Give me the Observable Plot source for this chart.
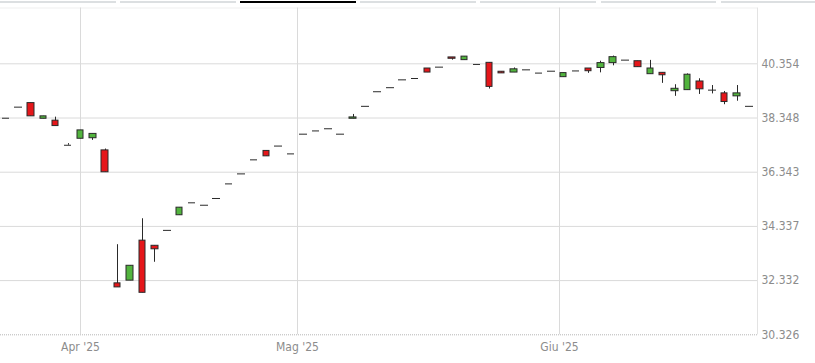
<!DOCTYPE html>
<html>
<head>
<meta charset="utf-8">
<script src="https://cdn.jsdelivr.net/npm/d3@7"></script>
<script src="https://cdn.jsdelivr.net/npm/@observablehq/plot@0.6"></script>
<style>
  html, body { margin: 0; padding: 0; background: #fff; }
  #wrap { width: 815px; height: 363px; overflow: hidden; position: relative; }
  #tabs { position: relative; height: 7px; }
  #tabs div { position: absolute; top: 1px; height: 2px; width: 115.6px; background: #dcdfe1; }
  #tabs div.sel { background: #000; }
  svg { display: block; }
  svg text { font-stretch: condensed; }
</style>
</head>
<body>
<div id="wrap">
  <div id="tabs"></div>
  <div id="chart"></div>
</div>
<script>
const dates = [
  "2025-03-24","2025-03-25","2025-03-26","2025-03-27","2025-03-28","2025-03-31",
  "2025-04-01","2025-04-02","2025-04-03","2025-04-04","2025-04-07","2025-04-08","2025-04-09","2025-04-10","2025-04-11",
  "2025-04-14","2025-04-15","2025-04-16","2025-04-17","2025-04-22","2025-04-23","2025-04-24","2025-04-28","2025-04-30",
  "2025-05-02","2025-05-05","2025-05-06","2025-05-07","2025-05-08","2025-05-09","2025-05-12","2025-05-13","2025-05-14",
  "2025-05-15","2025-05-16","2025-05-19","2025-05-20","2025-05-21","2025-05-22","2025-05-23","2025-05-26","2025-05-27",
  "2025-05-28","2025-05-29","2025-05-30",
  "2025-06-02","2025-06-03","2025-06-04","2025-06-05","2025-06-06","2025-06-09","2025-06-10","2025-06-11","2025-06-12",
  "2025-06-13","2025-06-16","2025-06-17","2025-06-18","2025-06-19","2025-06-20","2025-06-23"
];
const open = [
  38340,38750,38900,38320,38250,37340,
  37580,37600,37150,32230,32330,33810,33620,34190,34750,
  35210,35120,35370,35910,36280,36800,37130,37310,37020,
  37750,37870,37950,37750,38320,38780,39320,39470,39760,
  39810,40180,40230,40590,40490,40330,40390,40060,40030,
  40130,40010,40080,
  39860,40090,40180,40200,40380,40490,40450,39970,40020,
  39340,39380,39700,39380,39260,39150,38780
];
const high = [
  38340,38750,38900,38410,38380,37400,
  37890,37760,37200,33660,32880,34620,33620,34190,35030,
  35210,35120,35370,35910,36280,36800,37130,37310,37020,
  37750,37870,37950,37750,38480,38780,39320,39470,39760,
  39810,40180,40230,40590,40620,40330,40390,40060,40200,
  40130,40010,40080,
  40010,40090,40180,40450,40640,40490,40450,40480,40020,
  39580,39980,39800,39550,39330,39550,38780
];
const low = [
  38340,38750,38410,38320,38050,37340,
  37580,37520,36340,32080,32330,31880,33010,34190,34750,
  35210,35120,35370,35910,36280,36800,36930,37310,37020,
  37750,37870,37950,37750,38320,38780,39320,39470,39760,
  39810,40030,40230,40490,40490,40330,39420,40000,40030,
  40130,40010,40080,
  39860,40090,40000,40020,40280,40490,40230,39970,39630,
  39150,39380,39220,39240,38840,38970,38780
];
const close = [
  38340,38750,38410,38410,38050,37340,
  37890,37760,36340,32080,32880,31880,33490,34190,35030,
  35210,35120,35370,35910,36280,36800,36930,37310,37020,
  37750,37870,37950,37750,38370,38780,39320,39470,39760,
  39810,40030,40230,40540,40620,40330,39500,40000,40150,
  40130,40010,40080,
  40010,40090,40080,40380,40600,40490,40230,40180,39930,
  39430,39950,39410,39380,38940,39260,38780
];
const yTicks = [30326, 32332, 34337, 36343, 38348, 40354];
const monthStarts = ["2025-04-01", "2025-05-01", "2025-06-01"];
const monthLabels = ["Apr '25", "Mag '25", "Giu '25"];
const tabCount = 7;
const selectedTab = 2;

// tabs bar
const tabs = document.getElementById("tabs");
for (let k = 0; k < tabCount; k++) {
  const d = document.createElement("div");
  d.style.left = (k * 120.1) + "px";
  if (k === selectedTab) d.className = "sel";
  tabs.appendChild(d);
}

const rows = dates.map((d, i) => ({
  i, date: new Date(d), open: open[i], high: high[i], low: low[i], close: close[i]
}));

function datePos(t) {
  const ms = +new Date(t);
  for (let i = 0; i < rows.length - 1; i++) {
    const a = +rows[i].date, b = +rows[i + 1].date;
    if (ms >= a && ms < b) return i + (ms - a) / (b - a);
  }
  return rows.length - 1;
}
const monthPos = monthStarts.map(datePos);
const labelOf = new Map(monthPos.map((p, k) => [p, monthLabels[k]]));

const itFmt = d3.formatLocale({decimal: ",", thousands: ".", grouping: [3], currency: ["€", ""]}).format(",d");

const xMin = -0.452, xMax = 60.645;
const yMin = 30326, yMax = 42419;
const hw = 0.26, dw = 0.31;

const flat = rows.filter(d => d.open === d.close);
const bodies = rows.filter(d => d.open !== d.close);
const up = bodies.filter(d => d.close > d.open);
const down = bodies.filter(d => d.close < d.open);
const wicks = rows.filter(d => d.high > d.low);

const green = "#52b43e", red = "#e5161a", edge = "#2a2a2a";

const chart = Plot.plot({
  width: 815,
  height: 356,
  marginLeft: 0,
  marginRight: 58,
  marginTop: 0.5,
  marginBottom: 28.7,
  x: {domain: [xMin, xMax], axis: null, round: true},
  y: {domain: [yMin, yMax], axis: null},
  style: {fontFamily: "'DejaVu Sans Condensed', 'DejaVu Sans', sans-serif", fontSize: "12px", background: "#fff"},
  marks: [
    Plot.ruleY([yMax], {x1: () => xMin, x2: () => xMax, stroke: "#efefef"}),
    Plot.ruleY(yTicks.slice(1), {x1: () => xMin, x2: () => xMax, stroke: "#dadada"}),
    Plot.ruleY(yTicks.slice(0, 1), {x1: () => xMin, x2: () => xMax, stroke: "#b5b5b5", strokeDasharray: "1,1"}),
    Plot.ruleX(monthPos, {y1: () => yMin, y2: () => yMax, stroke: "#dadada"}),
    Plot.ruleX([xMax], {y1: () => yMin, y2: () => yMax, stroke: "#e3e3e3"}),
    Plot.ruleX(wicks, {x: "i", y1: "low", y2: "high", stroke: edge}),
    Plot.ruleY(flat, {y: "close", x1: d => d.i - dw, x2: d => d.i + dw, stroke: edge}),
    Plot.rect(up, {x1: d => d.i - hw, x2: d => d.i + hw, y1: "open", y2: "close", fill: green, stroke: edge}),
    Plot.rect(down, {x1: d => d.i - hw, x2: d => d.i + hw, y1: "open", y2: "close", fill: red, stroke: edge}),
    Plot.text(yTicks, {x: () => xMax, y: d => d, dx: 4, textAnchor: "start", text: d => itFmt(d), fill: "#8c8c8c", fontSize: 12}),
    Plot.text(monthPos, {x: d => d, y: () => yMin, dy: 12, text: d => labelOf.get(d), fill: "#8c8c8c", fontSize: 12})
  ]
});
document.getElementById("chart").appendChild(chart);
</script>
</body>
</html>
